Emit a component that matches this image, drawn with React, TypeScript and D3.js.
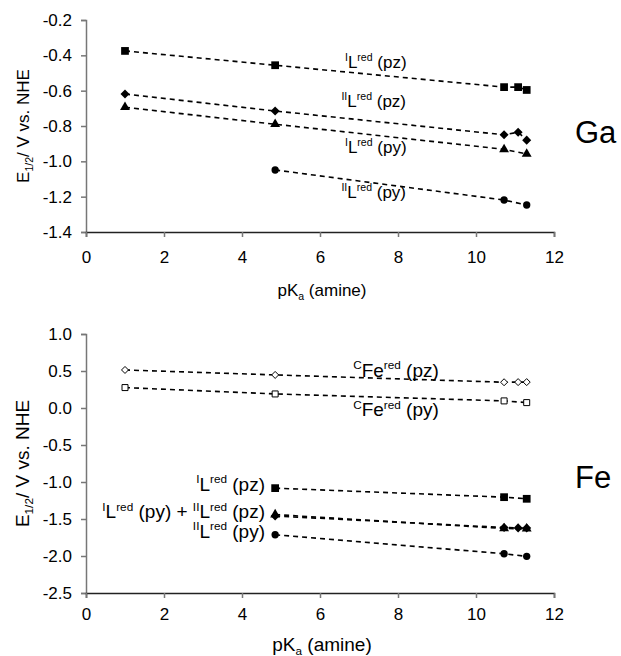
import React, { useEffect, useRef } from "react";
import * as d3 from "d3";

// amine pKa values (x) shared by both panels
const pKa = [1, 4.85, 10.72, 11.08, 11.3];
const xTicks = [0, 2, 4, 6, 8, 10, 12];

// Ga panel, E1/2 (V vs NHE)
const gaLIpz = [-0.375, -0.456, -0.58, -0.58, -0.596];
const gaLIIpz = [-0.619, -0.715, -0.85, -0.835, -0.88];
const gaLIpy = [-0.694, -0.79, -0.932, null, -0.958];
const gaLIIpy = [null, -1.049, -1.219, null, -1.247];
const gaTicks = [-1.4, -1.2, -1.0, -0.8, -0.6, -0.4, -0.2];

// Fe panel
const feCpz = [0.514, 0.447, 0.348, 0.35, 0.35];
const feCpy = [0.276, 0.19, 0.096, null, 0.073];
const feLIpz = [null, -1.083, -1.205, null, -1.227];
const feLIpy = [null, -1.44, -1.628, null, -1.632];
const feLIIpz = [null, -1.46, -1.615, -1.62, -1.622];
const feLIIpy = [null, -1.713, -1.97, null, -2.005];
const feTicks = [-2.5, -2.0, -1.5, -1.0, -0.5, 0.0, 0.5, 1.0];

type Part = { t: string; sup?: boolean; sub?: boolean };
type Series = { values: (number | null)[]; shape: string; open?: boolean };
type Label = { parts: Part[]; x: number; y: number; anchor?: string };

const L = (lvl: string, ring: string): Part[] => [
  { t: lvl, sup: true },
  { t: "L" },
  { t: "red", sup: true },
  { t: " (" + ring + ")" }
];
const CFe = (ring: string): Part[] => [
  { t: "C", sup: true },
  { t: "Fe" },
  { t: "red", sup: true },
  { t: " (" + ring + ")" }
];

const gaSeries: Series[] = [
  { values: gaLIpz, shape: "square" },
  { values: gaLIIpz, shape: "diamond" },
  { values: gaLIpy, shape: "triangle" },
  { values: gaLIIpy, shape: "circle" }
];
const feSeries: Series[] = [
  { values: feCpz, shape: "diamond", open: true },
  { values: feCpy, shape: "square", open: true },
  { values: feLIpz, shape: "square" },
  { values: feLIpy, shape: "triangle" },
  { values: feLIIpz, shape: "diamond" },
  { values: feLIIpy, shape: "circle" }
];

// label anchors in data units
const gaLabels: Label[] = [
  { parts: L("I", "pz"), x: 6.64, y: -0.472 },
  { parts: L("II", "pz"), x: 6.55, y: -0.692 },
  { parts: L("I", "py"), x: 6.64, y: -0.953 },
  { parts: L("II", "py"), x: 6.55, y: -1.207 }
];
const feLabels: Label[] = [
  { parts: CFe("pz"), x: 6.85, y: 0.425 },
  { parts: CFe("py"), x: 6.85, y: -0.11 },
  { parts: L("I", "pz"), x: 4.59, y: -1.115, anchor: "end" },
  {
    parts: [...L("I", "py"), { t: " + " }, ...L("II", "pz")],
    x: 4.59,
    y: -1.49,
    anchor: "end"
  },
  { parts: L("II", "py"), x: 4.59, y: -1.75, anchor: "end" }
];

const font = "'Liberation Sans', Arial, sans-serif";

function addRich(g: any, x: number, y: number, parts: Part[], fs: number, anchor = "start") {
  const t = g
    .append("text")
    .attr("x", x)
    .attr("y", y)
    .attr("font-size", fs)
    .attr("text-anchor", anchor);
  let shift = 0;
  parts.forEach(p => {
    const target = p.sup ? -fs * 0.4 : p.sub ? fs * 0.22 : 0;
    t.append("tspan")
      .attr("font-size", p.sup || p.sub ? fs * 0.62 : fs)
      .attr("dy", target - shift)
      .text(p.t);
    shift = target;
  });
  return t;
}

function drawPanel(
  svg: any,
  opts: {
    top: number;
    bottom: number;
    domain: [number, number];
    ticks: number[];
    series: Series[];
    labels: Label[];
    labelSize: number;
    metal: string;
    metalY: number;
    xLabelGap: number;
    titleY: number;
    titleSize: number;
  }
) {
  const x = d3.scaleLinear().domain([0, 12]).range([86, 554]);
  const y = d3.scaleLinear().domain(opts.domain).range([opts.bottom, opts.top]);
  const g = svg.append("g").attr("font-family", font);

  const ya = g
    .append("g")
    .attr("transform", "translate(86,0)")
    .call(
      d3
        .axisLeft(y)
        .tickValues(opts.ticks)
        .tickSize(5)
        .tickPadding(9)
        .tickFormat((d: any) => (+d).toFixed(1))
    );
  ya.select(".domain").attr("stroke", "#777").attr("stroke-width", 1.5);
  ya.selectAll(".tick line").attr("stroke", "#777").attr("stroke-width", 1.5);
  ya.selectAll("text").attr("font-size", 17).attr("fill", "#000").attr("font-family", font);

  const xa = g
    .append("g")
    .attr("transform", `translate(0,${opts.bottom})`)
    .call(d3.axisBottom(x).tickValues(xTicks).tickSize(5).tickPadding(opts.xLabelGap));
  xa.select(".domain").attr("stroke", "#222").attr("stroke-width", 1.5);
  xa.selectAll(".tick line").attr("stroke", "#777").attr("stroke-width", 1.5);
  xa.selectAll("text").attr("font-size", 17).attr("fill", "#000").attr("font-family", font);

  const line = d3
    .line<any>()
    .x(d => x(d[0]))
    .y(d => y(d[1]));

  const shapes: Record<string, any> = {
    square: d3.symbolSquare,
    diamond: d3.symbolDiamond2,
    triangle: d3.symbolTriangle,
    circle: d3.symbolCircle
  };
  const sizes: Record<string, number> = { square: 60, diamond: 52, triangle: 42, circle: 42 };

  opts.series.forEach(s => {
    const pts = pKa.map((p, i) => [p, s.values[i]]).filter(d => d[1] != null);
    g.append("path")
      .attr("d", line(pts))
      .attr("fill", "none")
      .attr("stroke", "#000")
      .attr("stroke-width", 1.6)
      .attr("stroke-dasharray", "5,4");
    g.append("g")
      .selectAll("path")
      .data(pts)
      .join("path")
      .attr("transform", (d: any) => `translate(${x(d[0])},${y(d[1])})`)
      .attr("d", d3.symbol(shapes[s.shape], s.open ? sizes[s.shape] * 0.6 : sizes[s.shape]))
      .attr("fill", s.open ? "#fff" : "#000")
      .attr("stroke", "#000")
      .attr("stroke-width", s.open ? 1 : 0);
  });

  opts.labels.forEach(l => addRich(g, x(l.x), y(l.y), l.parts, opts.labelSize, l.anchor || "start"));

  g.append("text")
    .attr("x", 575)
    .attr("y", opts.metalY)
    .attr("font-size", 31)
    .text(opts.metal);

  // axis titles
  const yt = addRich(
    g,
    0,
    0,
    [{ t: "E" }, { t: "1/2", sub: true }, { t: "/ V vs. NHE" }],
    opts.titleSize,
    "middle"
  );
  yt.attr("transform", `translate(29,${(opts.top + opts.bottom) / 2}) rotate(-90)`);
  addRich(g, 322, opts.titleY, [{ t: "pK" }, { t: "a", sub: true }, { t: " (amine)" }], opts.titleSize, "middle");
}

export default function App() {
  const ref = useRef<SVGSVGElement>(null);
  useEffect(() => {
    const svg = d3.select(ref.current);
    svg.selectAll("*").remove();
    drawPanel(svg, {
      top: 20,
      bottom: 232,
      domain: [-1.4, -0.2],
      ticks: gaTicks,
      series: gaSeries,
      labels: gaLabels,
      labelSize: 17,
      metal: "Ga",
      metalY: 143,
      xLabelGap: 14,
      titleY: 296,
      titleSize: 17
    });
    drawPanel(svg, {
      top: 334,
      bottom: 593,
      domain: [-2.5, 1.0],
      ticks: feTicks,
      series: feSeries,
      labels: feLabels,
      labelSize: 19,
      metal: "Fe",
      metalY: 488,
      xLabelGap: 10,
      titleY: 651,
      titleSize: 19
    });
  }, []);
  return (
    <svg
      ref={ref}
      width={621}
      height={656}
      style={{ position: "absolute", left: 0, top: 0, background: "#fff" }}
    />
  );
}
